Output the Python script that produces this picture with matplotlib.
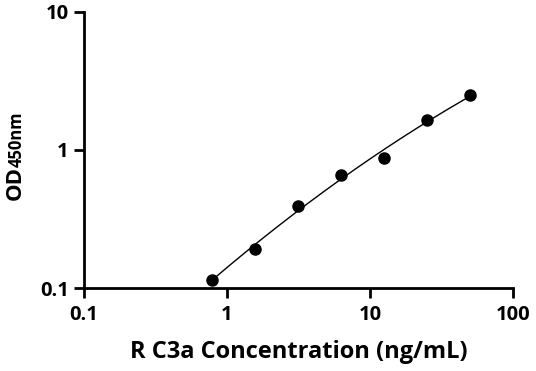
import matplotlib
matplotlib.use("Agg")
import matplotlib.pyplot as plt
import matplotlib.ticker as mticker
import numpy as np

# standard curve data
conc = [0.78, 1.56, 3.125, 6.25, 12.5, 25, 50]
od = [0.114, 0.192, 0.393, 0.656, 0.88, 1.64, 2.49]

x_ticks = [0.1, 1, 10, 100]
x_tick_labels = ["0.1", "1", "10", "100"]
y_ticks = [0.1, 1, 10]
y_tick_labels = ["0.1", "1", "10"]

plt.rcParams['font.family'] = ['Open Sans', 'DejaVu Sans']
plt.rcParams['font.weight'] = 'bold'

fig = plt.figure(figsize=(5.36, 3.71), dpi=100)
ax = fig.add_axes([0.1567, 0.2237, 0.957 - 0.1567, 0.9677 - 0.2237])

# fitted curve in log-log space
lx = np.log10(conc)
ly = np.log10(od)
coef = np.polyfit(lx, ly, 2)
xs = np.linspace(lx[0], lx[-1], 200)
ax.plot(10 ** xs, 10 ** np.polyval(coef, xs), color="black", lw=1.0)
ax.plot(conc, od, "o", color="black", markersize=8, zorder=3)

ax.set_xscale("log")
ax.set_yscale("log")
ax.set_xlim(0.1, 100)
ax.set_ylim(0.1, 10)
ax.set_xticks(x_ticks)
ax.set_xticklabels(x_tick_labels)
ax.set_yticks(y_ticks)
ax.set_yticklabels(y_tick_labels)
ax.xaxis.set_minor_locator(mticker.NullLocator())
ax.yaxis.set_minor_locator(mticker.NullLocator())

for s in ["top", "right"]:
    ax.spines[s].set_visible(False)
for s in ["left", "bottom"]:
    ax.spines[s].set_linewidth(2)
ax.tick_params(axis="both", width=2, length=7, labelsize=14.5, pad=4)
ax.tick_params(axis="x", pad=5)
for lab in ax.get_xticklabels() + ax.get_yticklabels():
    lab.set_fontweight("bold")

ax.set_xlabel("R C3a Concentration (ng/mL)", fontsize=17, fontweight="bold", labelpad=11)

# y label: OD with small 450nm
fig.text(26 / 536, 1 - 200 / 371, "OD", rotation=90, ha="right", va="bottom",
         fontsize=16, fontweight="bold")
fig.text(26 / 536, 1 - 167 / 371, "450nm", rotation=90, ha="right", va="bottom",
         fontsize=12, fontweight="bold")

fig.savefig("out.png", dpi=100)
